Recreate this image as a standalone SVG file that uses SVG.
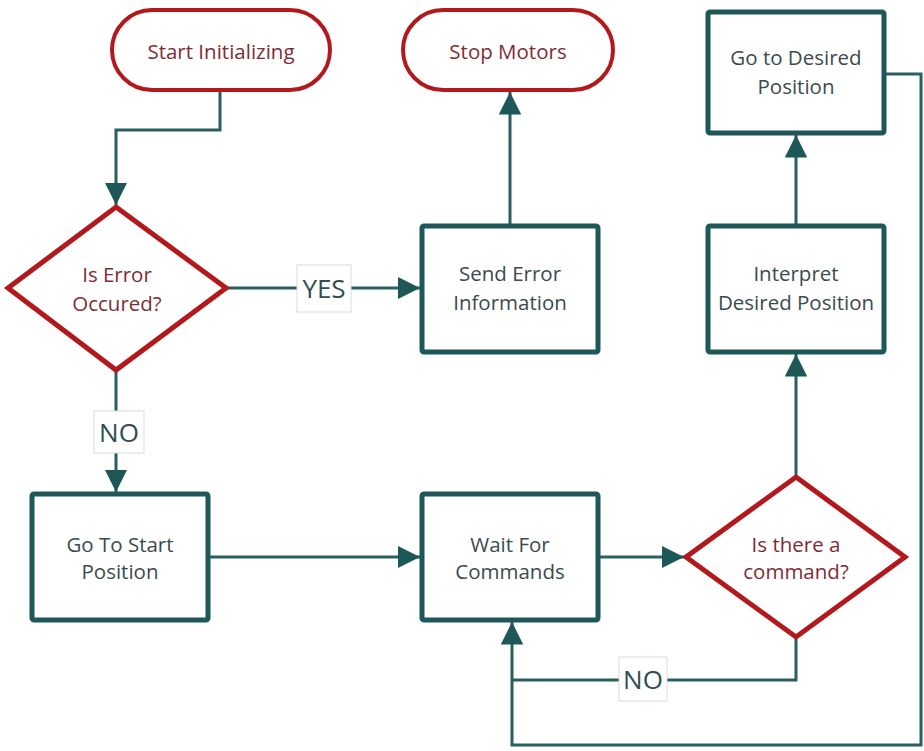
<svg xmlns="http://www.w3.org/2000/svg" width="924" height="751" viewBox="0 0 924 751">
  <style>
    .term { fill: #ffffff; stroke: #b3191c; stroke-width: 4; }
    .dec { fill: #ffffff; stroke: #b3191c; stroke-width: 5; stroke-linejoin: miter; }
    .proc { fill: #ffffff; stroke: #1d5757; stroke-width: 5; }
    .rt { font-family: "Open Sans", "Liberation Sans", sans-serif; font-size: 20.5px; fill: #7f2d33; text-anchor: middle; }
    .pt { font-family: "Open Sans", "Liberation Sans", sans-serif; font-size: 20.5px; fill: #3b4b4d; text-anchor: middle; }
    .wire { fill: none; stroke: #2a5f62; stroke-width: 3; }
    .lblbox { fill: #ffffff; stroke: #dcdcdc; stroke-width: 1; }
    .lbl { font-family: "Open Sans", "Liberation Sans", sans-serif; font-size: 26px; fill: #2f4f52; text-anchor: middle; }
  </style>
  <defs>
    <marker id="arrow" viewBox="0 0 10 10" refX="10" refY="5" markerWidth="7.5" markerHeight="7.5" markerUnits="strokeWidth" orient="auto">
      <path d="M0,0 L10,5 L0,10 z" fill="#1d5757"/>
    </marker>
  </defs>

  <rect width="924" height="751" fill="#ffffff"/>

  <!-- connectors -->
  <g id="connectors">
    <path class="wire" d="M220,90 V130 H116 V205" marker-end="url(#arrow)"/>
    <path class="wire" d="M226,288 H420" marker-end="url(#arrow)"/>
    <path class="wire" d="M510,226 V92" marker-end="url(#arrow)"/>
    <path class="wire" d="M116,370 V492" marker-end="url(#arrow)"/>
    <path class="wire" d="M208,557 H420" marker-end="url(#arrow)"/>
    <path class="wire" d="M598,557 H684" marker-end="url(#arrow)"/>
    <path class="wire" d="M796,477 V354" marker-end="url(#arrow)"/>
    <path class="wire" d="M796,226 V135" marker-end="url(#arrow)"/>
    <path class="wire" d="M796,638 V680 H512"/>
    <path class="wire" d="M884,74 H921 V745 H512 V622" marker-end="url(#arrow)"/>

    <rect class="lblbox" x="297" y="265" width="54" height="47"/>
    <text class="lbl" x="324" y="298">YES</text>
    <rect class="lblbox" x="94" y="411" width="50" height="42"/>
    <text class="lbl" x="119" y="442">NO</text>
    <rect class="lblbox" x="619" y="657" width="48" height="44"/>
    <text class="lbl" x="643" y="689">NO</text>
  </g>

  <!-- nodes -->
  <g id="start-initializing">
    <rect class="term" x="112" y="10" width="218" height="80" rx="40" ry="40"/>
    <text class="rt" x="221" y="59">Start Initializing</text>
  </g>

  <g id="stop-motors">
    <rect class="term" x="403" y="10" width="210" height="80" rx="40" ry="40"/>
    <text class="rt" x="508" y="59">Stop Motors</text>
  </g>

  <g id="go-to-desired-position">
    <rect class="proc" x="708" y="12" width="176" height="121" rx="2"/>
    <text class="pt" x="796" y="65">Go to Desired</text>
    <text class="pt" x="796" y="94">Position</text>
  </g>

  <g id="is-error-occured">
    <polygon class="dec" points="116,207 226,288 116,370 8,288"/>
    <text class="rt" x="117" y="282">Is Error</text>
    <text class="rt" x="117" y="311">Occured?</text>
  </g>

  <g id="send-error-information">
    <rect class="proc" x="422" y="226" width="176" height="126" rx="2"/>
    <text class="pt" x="510" y="281">Send Error</text>
    <text class="pt" x="510" y="310">Information</text>
  </g>

  <g id="interpret-desired-position">
    <rect class="proc" x="708" y="226" width="176" height="126" rx="2"/>
    <text class="pt" x="796" y="281">Interpret</text>
    <text class="pt" x="796" y="310">Desired Position</text>
  </g>

  <g id="go-to-start-position">
    <rect class="proc" x="32" y="494" width="176" height="126" rx="2"/>
    <text class="pt" x="120" y="552">Go To Start</text>
    <text class="pt" x="120" y="579">Position</text>
  </g>

  <g id="wait-for-commands">
    <rect class="proc" x="422" y="494" width="176" height="126" rx="2"/>
    <text class="pt" x="510" y="552">Wait For</text>
    <text class="pt" x="510" y="579">Commands</text>
  </g>

  <g id="is-there-a-command">
    <polygon class="dec" points="796,477 905,557 796,637 686,557"/>
    <text class="rt" x="796" y="552">Is there a</text>
    <text class="rt" x="796" y="579">command?</text>
  </g>
</svg>
